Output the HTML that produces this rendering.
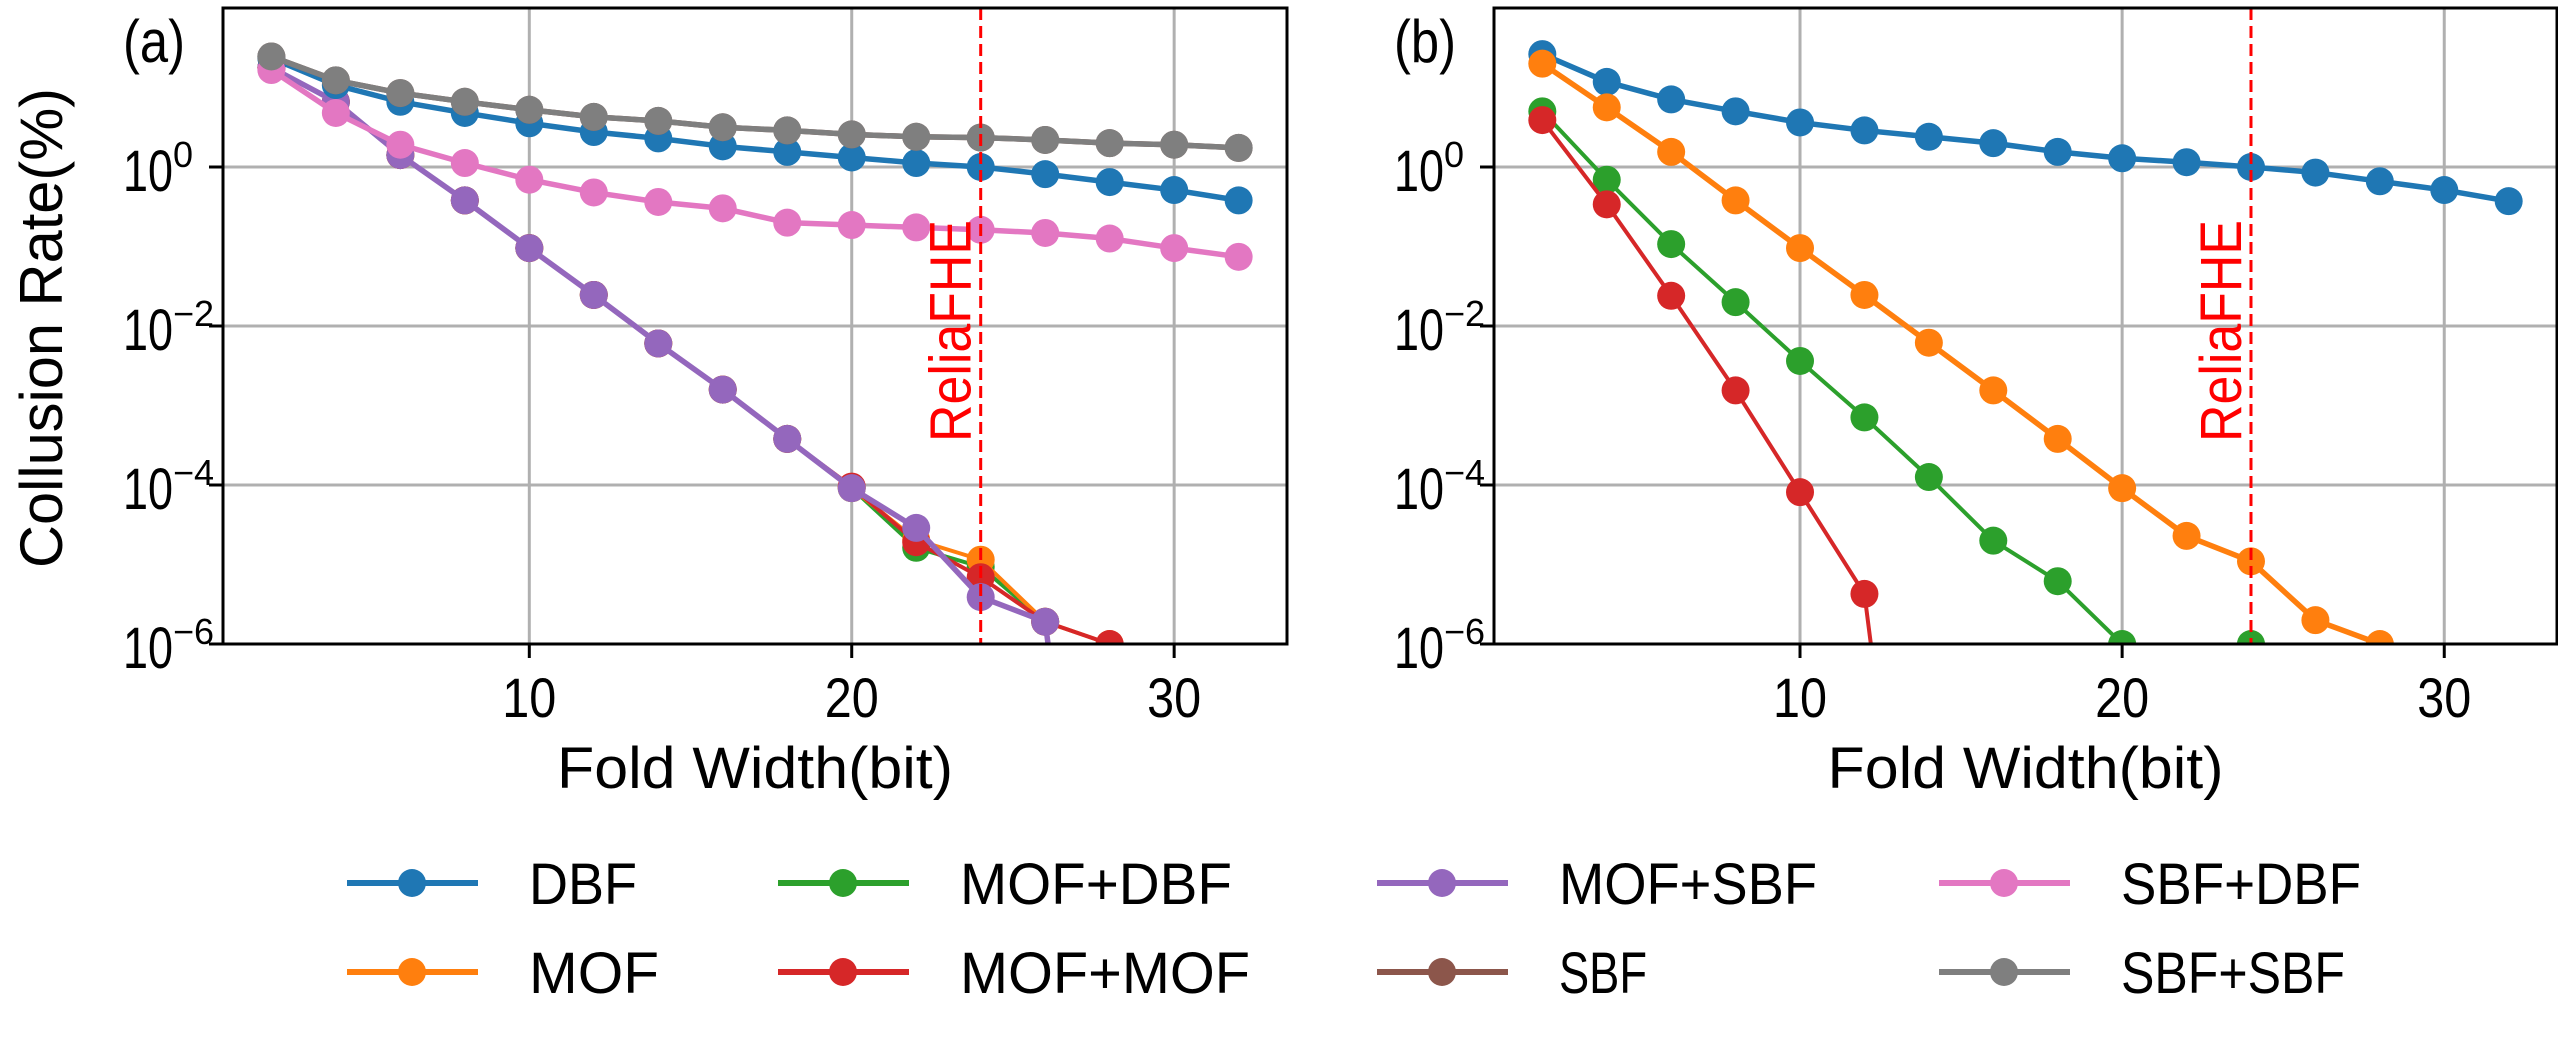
<!DOCTYPE html>
<html><head><meta charset="utf-8"><style>
html,body{margin:0;padding:0;background:#fff;width:2558px;height:1042px;overflow:hidden;}
svg{display:block;font-family:"Liberation Sans",sans-serif;}
</style></head><body>
<svg id="fig" width="2558" height="1042" viewBox="0 0 2558 1042" xmlns="http://www.w3.org/2000/svg">
<defs>
<clipPath id="clipA"><rect x="223" y="8" width="1064" height="636"/></clipPath>
<clipPath id="clipB"><rect x="1494" y="8" width="1063" height="636"/></clipPath>
</defs>
</svg>
<script>
const xs = [2,4,6,8,10,12,14,16,18,20,22,24,26,28,30,32];
const xTicks = [10,20,30];
const yTicks = [0,-2,-4,-6];
const names = ["DBF","MOF","MOF+DBF","MOF+MOF","MOF+SBF","SBF","SBF+DBF","SBF+SBF"];
const colors = ["#1f77b4","#ff7f0e","#2ca02c","#d62728","#9467bd","#8c564b","#e377c2","#7f7f7f"];
// log10 values of collusion rate (%)
const aDBF = [1.37,1.03,0.82,0.68,0.55,0.44,0.36,0.26,0.19,0.12,0.05,0,-0.09,-0.19,-0.29,-0.42];
const aMOF = [1.25,0.82,0.15,-0.42,-1.02,-1.61,-2.22,-2.8,-3.42,-4.04,-4.69,-4.94,-5.72,-6,-12,-12];
const aMOFDBF = [1.25,0.82,0.15,-0.42,-1.02,-1.61,-2.22,-2.8,-3.42,-4.04,-4.79,-5.03,-5.72,-12,-12,-12];
const aMOFMOF = [1.25,0.82,0.15,-0.42,-1.02,-1.61,-2.22,-2.8,-3.42,-4.02,-4.72,-5.16,-5.72,-6,-12,-12];
const aMOFSBF = [1.25,0.82,0.15,-0.42,-1.02,-1.61,-2.22,-2.8,-3.42,-4.04,-4.54,-5.41,-5.72,-12,-12,-12];
const aSBF = [1.39,1.09,0.93,0.82,0.72,0.63,0.58,0.5,0.46,0.41,0.38,0.37,0.34,0.3,0.28,0.24];
const aSBFDBF = [1.22,0.68,0.28,0.05,-0.16,-0.32,-0.44,-0.52,-0.7,-0.73,-0.76,-0.79,-0.83,-0.9,-1.02,-1.13];
const aSBFSBF = [1.39,1.09,0.93,0.82,0.72,0.63,0.58,0.5,0.46,0.41,0.38,0.37,0.34,0.3,0.28,0.24];
const bDBF = [1.42,1.07,0.85,0.7,0.56,0.46,0.38,0.3,0.19,0.11,0.06,0,-0.07,-0.18,-0.29,-0.43];
const bMOF = [1.3,0.75,0.19,-0.42,-1.02,-1.61,-2.21,-2.81,-3.42,-4.04,-4.64,-4.96,-5.7,-6];
const bMOFDBF = [0.7,-0.16,-0.97,-1.7,-2.44,-3.15,-3.9,-4.7,-5.21,-6,-7,-6];
const bMOFMOF = [0.59,-0.47,-1.62,-2.81,-4.09,-5.37,-11.7];
const refX = 24;
const FLOOR = -6.3;

const NS="http://www.w3.org/2000/svg";
const svg=document.getElementById('fig');
function el(tag,attrs,parent,text){const e=document.createElementNS(NS,tag);for(const k in attrs)e.setAttribute(k,attrs[k]);if(text!==undefined)e.textContent=text;(parent||svg).appendChild(e);return e;}
function yS(v){return 167 - v*79.5;}

function panel(id,left,right,series,label,clip){
  const xS=v=>left+(v-0.5)*(right-left)/33;
  const g=el('g',{});
  
  
  xTicks.forEach(t=>{const l=el('line',{x1:xS(t),x2:xS(t),y1:8,y2:644,stroke:'#b0b0b0','stroke-width':3},g);
    
    });
  yTicks.forEach(t=>{const l=el('line',{x1:left,x2:right,y1:yS(t),y2:yS(t),stroke:'#b0b0b0','stroke-width':3},g);
    
    });
  const sg=el('g',{'clip-path':'url(#'+clip+')'},g);
  series.forEach(s=>{
    const w=s.w||5.5;
    for(let i=0;i<s.vals.length-1;i++){
      let x1=xs[i],v1=s.vals[i],x2=xs[i+1],v2=s.vals[i+1];
      if(v1<FLOOR&&v2<FLOOR)continue;
      if(v1<FLOOR){x1=x1+(x2-x1)*(FLOOR-v1)/(v2-v1);v1=FLOOR;}
      if(v2<FLOOR){x2=x1+(x2-x1)*(v1-FLOOR)/(v1-v2);v2=FLOOR;}
      const ln=el('line',{x1:xS(x1),y1:yS(v1),x2:xS(x2),y2:yS(v2),stroke:s.color,'stroke-width':w,'stroke-linecap':'round'},sg);
      
      
    }
    s.vals.forEach((v,i)=>{if(v<FLOOR)return;
      const c=el('circle',{cx:xS(xs[i]),cy:yS(v),r:14,fill:s.color},sg);
      
      });
  });
  const rl=el('line',{x1:xS(refX),x2:xS(refX),y1:8,y2:644,stroke:'#ff0000','stroke-width':3,'stroke-dasharray':'12,6'},g);
  
  
  const rt=el('text',{x:0,y:0,transform:'translate('+(xS(refX)-10)+',442) rotate(-90)','font-size':58,fill:'#ff0000',textLength:222,lengthAdjust:'spacingAndGlyphs'},g,'ReliaFHE');
  
  
  const fr=el('rect',{x:left,y:8,width:right-left,height:636,fill:'none',stroke:'#000','stroke-width':3},g);
  
  
  xTicks.forEach(t=>{el('line',{x1:xS(t),x2:xS(t),y1:644,y2:658,stroke:'#000','stroke-width':3},g);
    const tx=el('text',{x:xS(t),y:717,'font-size':56,'text-anchor':'middle',textLength:54,lengthAdjust:'spacingAndGlyphs'},g,String(t));
    
    });
  yTicks.forEach(t=>{el('line',{x1:left-14,x2:left,y1:yS(t),y2:yS(t),stroke:'#000','stroke-width':3},g);
    const tx=el('text',{x:left-100,y:yS(t)+24,'font-size':58},g);
    
    
    el('tspan',{textLength:50,lengthAdjust:'spacingAndGlyphs'},tx,'10');
    el('tspan',{dy:-24,'font-size':36},tx,t===0?'0':'\u2212'+(-t));
  });
  const xl=el('text',{x:(left+right)/2,y:788,'font-size':58,'text-anchor':'middle',textLength:396,lengthAdjust:'spacingAndGlyphs'},g,'Fold Width(bit)');
  
  
  const pl=el('text',{x:left-100,y:62,'font-size':60,textLength:62,lengthAdjust:'spacingAndGlyphs'},g,label);
  
  
}

panel('a',223,1287,[
  {name:'MOF+DBF',color:colors[2],vals:aMOFDBF,w:4},
  {name:'MOF',color:colors[1],vals:aMOF,w:4},
  {name:'MOF+MOF',color:colors[3],vals:aMOFMOF,w:4},
  {name:'MOF+SBF',color:colors[4],vals:aMOFSBF},
  {name:'DBF',color:colors[0],vals:aDBF},
  {name:'SBF',color:colors[5],vals:aSBF},
  {name:'SBF+DBF',color:colors[6],vals:aSBFDBF},
  {name:'SBF+SBF',color:colors[7],vals:aSBFSBF}
],'(a)','clipA');
panel('b',1494,2557,[
  {name:'DBF',color:colors[0],vals:bDBF},
  {name:'MOF',color:colors[1],vals:bMOF},
  {name:'MOF+DBF',color:colors[2],vals:bMOFDBF,w:4},
  {name:'MOF+MOF',color:colors[3],vals:bMOFMOF,w:4}
],'(b)','clipB');

const yl=el('text',{x:0,y:0,transform:'translate(62,328) rotate(-90)','font-size':60,'text-anchor':'middle',textLength:480,lengthAdjust:'spacingAndGlyphs'},svg,'Collusion Rate(%)');



const legCols=[347,778,1377,1939];
const legRows=[883,972];
const legOrder=[[0,1],[2,3],[4,5],[6,7]];
const lg=el('g',{});


legOrder.forEach((pair,ci)=>pair.forEach((si,ri)=>{
  const x=legCols[ci],y=legRows[ri];
  const e=el('g',{},lg);
  
  
  el('line',{x1:x,x2:x+131,y1:y,y2:y,stroke:colors[si],'stroke-width':6},e);
  el('circle',{cx:x+65,cy:y,r:14,fill:colors[si]},e);
  const tw={"DBF":108,"MOF":130,"MOF+DBF":272,"MOF+MOF":290,"MOF+SBF":258,"SBF":88,"SBF+DBF":240,"SBF+SBF":224}[names[si]];
  el('text',{x:x+182,y:y+21,'font-size':58,textLength:tw,lengthAdjust:'spacingAndGlyphs'},e,names[si]);
}));
</script>
</body></html>
